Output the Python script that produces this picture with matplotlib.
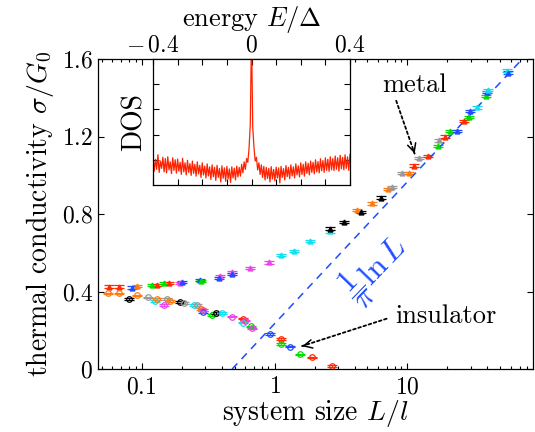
import numpy as np
import matplotlib
matplotlib.use('Agg')
import matplotlib.pyplot as plt
from matplotlib.ticker import FixedLocator, NullFormatter, FixedFormatter

plt.rcParams['font.family'] = 'serif'
plt.rcParams['font.serif'] = ['cmr10', 'DejaVu Serif']
plt.rcParams['mathtext.fontset'] = 'cm'
plt.rcParams['axes.formatter.use_mathtext'] = True
plt.rcParams['axes.unicode_minus'] = False

# data sets (colour of each simulation series)
palette = {'red': '#ff2a00', 'orange': '#ff7a10', 'blue': '#1f4cff', 'green': '#00dd00',
           'cyan': '#10e0f0', 'magenta': '#ee44ee', 'gray': '#999999', 'black': '#000000'}

# metallic branch
metal_L = [0.0565, 0.068, 0.084, 0.093, 0.119, 0.13, 0.148, 0.162, 0.195, 0.203,
           0.273, 0.278, 0.39, 0.385, 0.48, 0.475, 0.65, 0.91, 1.12, 1.41,
           1.86, 2.63, 2.63, 3.36, 4.2, 4.5, 5.4, 6.3, 7.1, 7.6,
           9.1, 10.2, 11.2, 12.3, 14.2, 17.0, 17.3, 19.3, 21.0, 23.7,
           26.7, 29.0, 29.7, 33.6, 39.0, 39.8, 40.5, 56.0, 57.0]
metal_sigma = [0.425, 0.425, 0.42, 0.43, 0.435, 0.435, 0.445, 0.445, 0.445, 0.45,
               0.46, 0.455, 0.48, 0.47, 0.50, 0.49, 0.52, 0.55, 0.59, 0.61,
               0.66, 0.71, 0.725, 0.76, 0.82, 0.81, 0.855, 0.885, 0.93, 0.94,
               1.01, 1.01, 1.05, 1.09, 1.10, 1.15, 1.18, 1.20, 1.23, 1.23,
               1.28, 1.30, 1.33, 1.35, 1.41, 1.43, 1.44, 1.54, 1.53]
metal_set = ['red', 'red', 'blue', 'orange', 'green', 'red', 'green', 'red', 'magenta', 'blue',
             'blue', 'green', 'magenta', 'blue', 'magenta', 'blue', 'magenta', 'magenta', 'cyan', 'cyan',
             'cyan', 'cyan', 'black', 'black', 'orange', 'black', 'orange', 'black', 'orange', 'gray',
             'gray', 'orange', 'red', 'gray', 'red', 'green', 'gray', 'red', 'green', 'blue',
             'red', 'green', 'blue', 'cyan', 'green', 'blue', 'cyan', 'cyan', 'blue']

# insulating branch
ins_L = [0.0556, 0.068, 0.080, 0.093, 0.111, 0.126, 0.13, 0.148, 0.154, 0.165,
         0.193, 0.21, 0.25, 0.26, 0.28, 0.29, 0.29, 0.34, 0.36, 0.405,
         0.48, 0.575, 0.575, 0.60, 0.67, 0.68, 0.93, 1.11, 1.11, 1.30,
         1.55, 1.90, 2.7]
ins_sigma = [0.39, 0.39, 0.36, 0.38, 0.37, 0.35, 0.36, 0.33, 0.36, 0.35,
             0.345, 0.34, 0.33, 0.33, 0.31, 0.295, 0.305, 0.28, 0.29, 0.29,
             0.27, 0.26, 0.24, 0.25, 0.22, 0.21, 0.18, 0.155, 0.13, 0.115,
             0.075, 0.06, 0.016]
ins_set = ['orange', 'orange', 'black', 'orange', 'gray', 'cyan', 'orange', 'magenta', 'gray', 'orange',
           'black', 'gray', 'cyan', 'gray', 'orange', 'blue', 'magenta', 'green', 'black', 'cyan',
           'magenta', 'red', 'cyan', 'magenta', 'green', 'magenta', 'blue', 'red', 'green', 'blue',
           'green', 'red', 'red']

L0 = 0.48  # where the 1/pi ln L line crosses zero

# density of states (inset)
dos_E = np.linspace(-0.4, 0.4, 161)
dos = [1.15, 0.55, 1.02, 0.62, 1.20, 0.50, 0.95, 0.66, 1.10, 0.52,
       1.05, 0.48, 1.12, 0.60, 0.92, 0.45, 1.08, 0.58, 1.00, 0.47,
       1.03, 0.55, 0.90, 0.42, 1.06, 0.52, 0.88, 0.40, 0.98, 0.50,
       0.85, 0.38, 0.95, 0.46, 0.82, 0.35, 0.92, 0.44, 0.78, 0.30,
       0.88, 0.40, 0.75, 0.28, 0.84, 0.36, 0.72, 0.22, 0.80, 0.33,
       0.70, 0.18, 0.78, 0.30, 0.66, 0.12, 0.76, 0.27, 0.68, 0.15,
       0.74, 0.25, 0.64, 0.10, 0.72, 0.28, 0.67, 0.20, 0.75, 0.32,
       0.70, 0.35, 0.82, 0.48, 0.92, 0.62, 1.05, 0.90, 1.45, 2.40,
       6.0,
       2.30, 1.50, 0.95, 1.10, 0.60, 0.88, 0.42, 0.80, 0.30, 0.74,
       0.20, 0.70, 0.26, 0.66, 0.12, 0.73, 0.24, 0.62, 0.16, 0.71,
       0.28, 0.68, 0.08, 0.74, 0.30, 0.65, 0.20, 0.77, 0.33, 0.70,
       0.25, 0.80, 0.36, 0.72, 0.28, 0.84, 0.40, 0.76, 0.32, 0.88,
       0.42, 0.82, 0.35, 0.92, 0.46, 0.86, 0.40, 0.95, 0.50, 0.90,
       0.44, 1.00, 0.52, 0.93, 0.48, 1.04, 0.56, 0.97, 0.50, 1.08,
       0.58, 1.02, 0.54, 1.12, 0.60, 1.05, 0.57, 1.15, 0.62, 1.08,
       0.55, 1.18, 0.64, 1.10, 0.60, 1.20, 0.66, 1.12, 0.58, 1.22]

fig = plt.figure(figsize=(5.35, 4.32), dpi=100)
ax = fig.add_axes([98 / 535, 1 - 369 / 432, 435 / 535, 310 / 432])

for L, s, c in zip(metal_L, metal_sigma, metal_set):
    ax.errorbar(L, s, yerr=0.006, fmt='^', ms=3.5, color=palette[c], mec=palette[c],
                elinewidth=0.9, capsize=3.5, capthick=0.9)
for L, s, c in zip(ins_L, ins_sigma, ins_set):
    ax.errorbar(L, s, yerr=0.004, fmt='o', ms=4, color=palette[c], mfc='none', mec=palette[c],
                mew=0.9, elinewidth=0.9, capsize=3.5, capthick=0.9)

xlim = (0.047, 88)
Lgrid = np.logspace(np.log10(L0), np.log10(xlim[1]), 200)
ax.plot(Lgrid, np.log(Lgrid / L0) / np.pi, color='#1f4cff', lw=1.1, ls=(0, (5, 4)))

ax.set_xscale('log')
ax.set_xlim(*xlim)
ax.set_ylim(0, 1.6)
ax.set_xticks([0.1, 1, 10])
ax.set_xticklabels(['$0.1$', '$1$', '$10$'])
ax.set_yticks([0, 0.4, 0.8, 1.2, 1.6])
ax.set_yticklabels(['$0$', '$0.4$', '$0.8$', '$1.2$', '$1.6$'])
ax.xaxis.set_minor_formatter(NullFormatter())
ax.tick_params(which='both', direction='in', top=True, right=True, labelsize=17)
ax.tick_params(which='major', length=4.5, width=0.8)
ax.tick_params(which='minor', length=2.5, width=0.8)
ax.tick_params(axis='x', pad=5)
for sp in ax.spines.values():
    sp.set_linewidth(0.9)
ax.set_xlabel(r'system size $L/l$', fontsize=20, labelpad=0)
ax.set_ylabel(r'thermal conductivity $\sigma/G_0$', fontsize=20, labelpad=4)

ax.text(5.65, 0.52, r'$\dfrac{1}{\pi}\ln L$', color='#1f4cff', fontsize=23,
        rotation=46, ha='center', va='center')

# annotations with dotted arrows
ax.annotate('', xy=(11.5, 1.098), xytext=(8.1, 1.398),
            arrowprops=dict(arrowstyle='-', ls=(0, (1.5, 1.5)), lw=1.3, color='k'))
ax.annotate('', xy=(11.5, 1.098), xytext=(11.0, 1.14),
            arrowprops=dict(arrowstyle='->,head_length=0.6,head_width=0.3', lw=1.1, color='k'))
ax.text(11.3, 1.466, 'metal', fontsize=19, ha='center', va='center')

ax.annotate('', xy=(1.54, 0.114), xytext=(7.3, 0.264),
            arrowprops=dict(arrowstyle='-', ls=(0, (1.5, 1.5)), lw=1.3, color='k'))
ax.annotate('', xy=(1.54, 0.114), xytext=(1.75, 0.123),
            arrowprops=dict(arrowstyle='->,head_length=0.6,head_width=0.3', lw=1.1, color='k'))
ax.text(8.1, 0.272, 'insulator', fontsize=19, ha='left', va='center')

# inset: density of states
ins = fig.add_axes([153 / 535, 1 - 185 / 432, 197 / 535, 126 / 432])
ins.plot(dos_E, dos, color='#ff2200', lw=0.9)
ins.set_xlim(-0.4, 0.4)
ins.set_ylim(0, 5)
ins.xaxis.set_major_locator(FixedLocator([-0.4, -0.2, 0, 0.2, 0.4]))
ins.xaxis.set_minor_locator(FixedLocator([-0.3, -0.1, 0.1, 0.3]))
ins.xaxis.set_major_formatter(FixedFormatter(['$-\\,0.4$', '', '$0$', '', '$0.4$']))
ins.set_yticks([1, 2, 3, 4])
ins.set_yticklabels([])
ins.tick_params(which='both', direction='in', top=True, right=True, bottom=True,
                labeltop=True, labelbottom=False, labelsize=17, pad=2)
ins.tick_params(which='major', length=4.5, width=0.8)
ins.tick_params(which='minor', length=4.5, width=0.8)
for sp in ins.spines.values():
    sp.set_linewidth(0.9)
ins.xaxis.set_label_position('top')
ins.set_xlabel(r'energy $E/\Delta$', fontsize=19, labelpad=6)
ins.set_ylabel('DOS', fontsize=20, labelpad=2)

fig.savefig('out.png', dpi=100)
